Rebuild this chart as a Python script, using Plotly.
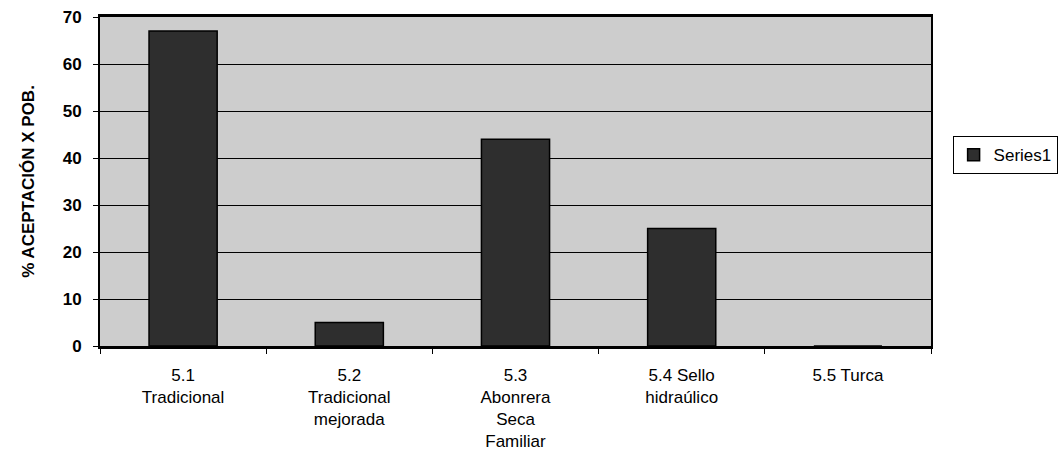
import plotly.graph_objects as go

# Acceptance percentage by latrine type
categories = [
    "5.1<br>Tradicional",
    "5.2<br>Tradicional<br>mejorada",
    "5.3<br>Abonrera<br>Seca<br>Familiar",
    "5.4 Sello<br>hidraúlico",
    "5.5 Turca",
]
series1 = [67, 5, 44, 25, 0]
y_ticks = [0, 10, 20, 30, 40, 50, 60, 70]

FONT = "Liberation Sans, Arial, sans-serif"

fig = go.Figure()
fig.add_trace(go.Bar(
    x=categories,
    y=series1,
    name="Series1",
    marker=dict(color="#2e2e2e", line=dict(color="#000000", width=1.5)),
))

fig.update_layout(
    width=1059,
    height=474,
    margin=dict(l=100, r=128, t=17, b=128, autoexpand=False),
    paper_bgcolor="#ffffff",
    plot_bgcolor="#cdcdcd",
    bargap=0.59,
    font=dict(family=FONT, size=17, color="#000000"),
    showlegend=True,
    legend=dict(
        x=1.026, y=0.58, xanchor="left", yanchor="middle",
        bgcolor="#ffffff", bordercolor="#000000", borderwidth=1,
        font=dict(size=17),
        itemwidth=30,
    ),
    xaxis=dict(
        type="category",
        showline=True, linecolor="#000000", linewidth=2.5, mirror=True,
        ticks="outside", tickson="boundaries", ticklen=5, tickcolor="#000000",
        showgrid=False,
        tickfont=dict(size=17),
        ticklabelstandoff=12,
    ),
    yaxis=dict(
        range=[0, 70],
        tickvals=y_ticks,
        ticktext=[f"<b>{v}</b>" for v in y_ticks],
        showline=True, linecolor="#000000", linewidth=2, mirror=True,
        ticks="outside", ticklen=5, tickcolor="#000000",
        showgrid=True, gridcolor="#000000", gridwidth=1,
        zeroline=False,
        tickfont=dict(size=17),
        ticklabelstandoff=8,
        title=dict(text="<b>% ACEPTACIÓN X POB.</b>", font=dict(size=17), standoff=24),
    ),
)

fig.write_html("out.html")
